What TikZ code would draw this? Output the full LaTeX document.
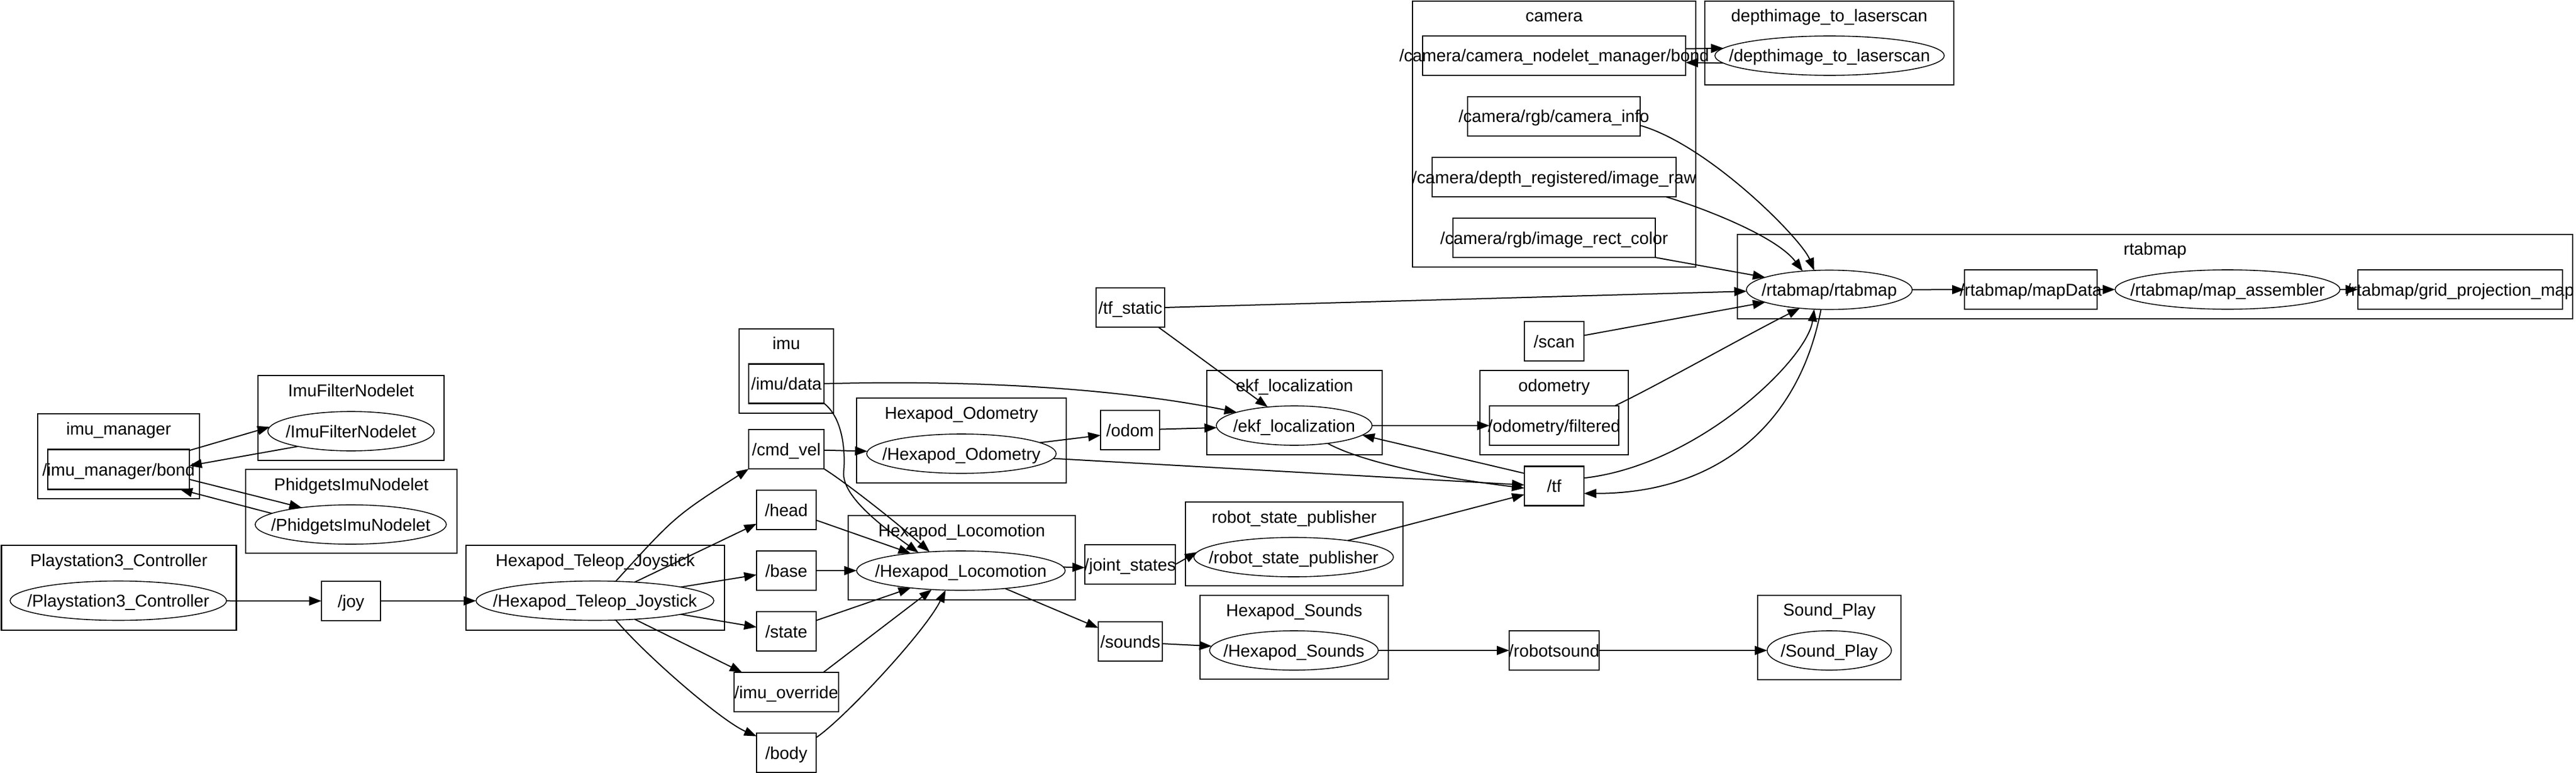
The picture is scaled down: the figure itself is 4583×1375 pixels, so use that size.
\documentclass[tikz,border=0pt]{standalone}
\usepackage{fontspec}
\setmainfont{Liberation Sans}
\usetikzlibrary{arrows.meta,shapes.geometric}
\newcommand{\zl}[1]{\makebox[0pt][c]{#1}}
\begin{document}
\begin{tikzpicture}[x=1pt,y=-1pt,
  every node/.style={font=\fontsize{30.5}{36}\selectfont, inner sep=0pt, outer sep=0pt, text height=22pt, text depth=0pt},
  clusterbox/.style={draw, line width=2.5pt, rectangle},
  topicbox/.style={draw, line width=2.2pt, rectangle, minimum height=70pt},
  nodeell/.style={draw, line width=1.6pt, ellipse, minimum height=70pt},
  ctitle/.style={},
  edge/.style={line width=2pt, -{Triangle[length=22pt,width=16pt]}},
]
\useasboundingbox (0,0) rectangle (4583,1375);
% clusters
\node[clusterbox, minimum width=288pt, minimum height=151pt] (c_imumgr) at (211,811.5) {};
\node[clusterbox, minimum width=331pt, minimum height=151pt] (c_imuf) at (624.5,743.5) {};
\node[clusterbox, minimum width=376pt, minimum height=149pt] (c_phid) at (625,909.5) {};
\node[clusterbox, minimum width=418pt, minimum height=151pt] (c_ps3) at (211.5,1045.5) {};
\node[clusterbox, minimum width=460pt, minimum height=151pt] (c_teleop) at (1059,1045.5) {};
\node[clusterbox, minimum width=168pt, minimum height=150pt] (c_imu) at (1399,660) {};
\node[clusterbox, minimum width=373pt, minimum height=151pt] (c_hodom) at (1710.5,783.5) {};
\node[clusterbox, minimum width=404pt, minimum height=150pt] (c_loco) at (1711,992) {};
\node[clusterbox, minimum width=312pt, minimum height=150pt] (c_ekf) at (2303,734) {};
\node[clusterbox, minimum width=387pt, minimum height=149pt] (c_rsp) at (2302.5,967.5) {};
\node[clusterbox, minimum width=335pt, minimum height=149pt] (c_hsnd) at (2302.5,1133.5) {};
\node[clusterbox, minimum width=264pt, minimum height=150pt] (c_odometry) at (2765,734) {};
\node[clusterbox, minimum width=504pt, minimum height=473pt] (c_camera) at (2765,238.5) {};
\node[clusterbox, minimum width=443pt, minimum height=149pt] (c_dimg) at (3254.5,76.5) {};
\node[clusterbox, minimum width=1486pt, minimum height=150pt] (c_rtab) at (3834,492) {};
\node[clusterbox, minimum width=255pt, minimum height=150pt] (c_splay) at (3254.5,1134) {};
% cluster titles
\node[ctitle] (t_imumgr) at ([yshift=-26pt]c_imumgr.north) {\zl{imu\_manager}};
\node[ctitle] (t_imuf) at ([yshift=-26pt]c_imuf.north) {\zl{ImuFilterNodelet}};
\node[ctitle] (t_phid) at ([yshift=-26pt]c_phid.north) {\zl{PhidgetsImuNodelet}};
\node[ctitle] (t_ps3) at ([yshift=-26pt]c_ps3.north) {\zl{Playstation3\_Controller}};
\node[ctitle] (t_teleop) at ([yshift=-26pt]c_teleop.north) {\zl{Hexapod\_Teleop\_Joystick}};
\node[ctitle] (t_imu) at ([yshift=-25pt]c_imu.north) {\zl{imu}};
\node[ctitle] (t_hodom) at ([yshift=-26pt]c_hodom.north) {\zl{Hexapod\_Odometry}};
\node[ctitle] (t_loco) at ([yshift=-26pt]c_loco.north) {\zl{Hexapod\_Locomotion}};
\node[ctitle] (t_ekf) at ([yshift=-26pt]c_ekf.north) {\zl{ekf\_localization}};
\node[ctitle] (t_rsp) at ([yshift=-26pt]c_rsp.north) {\zl{robot\_state\_publisher}};
\node[ctitle] (t_hsnd) at ([yshift=-26pt]c_hsnd.north) {\zl{Hexapod\_Sounds}};
\node[ctitle] (t_odometry) at ([yshift=-26pt]c_odometry.north) {\zl{odometry}};
\node[ctitle] (t_camera) at ([yshift=-26pt]c_camera.north) {\zl{camera}};
\node[ctitle] (t_dimg) at ([yshift=-26pt]c_dimg.north) {\zl{depthimage\_to\_laserscan}};
\node[ctitle] (t_rtab) at ([yshift=-25pt]c_rtab.north) {\zl{rtabmap}};
\node[ctitle] (t_splay) at ([yshift=-25pt]c_splay.north) {\zl{Sound\_Play}};
% topics
\node[topicbox, minimum width=252pt, minimum height=71pt] (bond) at (211,835) {\zl{/imu\_manager/bond}};
\node[topicbox, minimum width=105pt] (joy) at (624.5,1069) {\zl{/joy}};
\node[topicbox, minimum width=134pt] (imudata) at (1399,682.5) {\zl{/imu/data}};
\node[topicbox, minimum width=134pt] (cmdvel) at (1399,799) {\zl{/cmd\_vel}};
\node[topicbox, minimum width=106pt] (head) at (1399,907) {\zl{/head}};
\node[topicbox, minimum width=106pt] (base) at (1399,1015) {\zl{/base}};
\node[topicbox, minimum width=106pt] (state) at (1399,1123) {\zl{/state}};
\node[topicbox, minimum width=186pt] (imuov) at (1399,1231) {\zl{/imu\_override}};
\node[topicbox, minimum width=106pt] (body) at (1399,1339) {\zl{/body}};
\node[topicbox, minimum width=105pt] (odom) at (2010.5,765) {\zl{/odom}};
\node[topicbox, minimum width=122pt] (tfs) at (2011,547) {\zl{/tf\_static}};
\node[topicbox, minimum width=161pt] (js) at (2010.5,1004) {\zl{/joint\_states}};
\node[topicbox, minimum width=114pt] (sounds) at (2011,1141) {\zl{/sounds}};
\node[topicbox, minimum width=106pt] (scan) at (2765,607) {\zl{/scan}};
\node[topicbox, minimum width=230pt] (odomf) at (2765,757) {\zl{/odometry/filtered}};
\node[topicbox, minimum width=106pt] (tf) at (2765,864.5) {\zl{/tf}};
\node[topicbox, minimum width=160pt] (rsnd) at (2765,1157) {\zl{/robotsound}};
\node[topicbox, minimum width=468pt] (cbond) at (2765,99) {\zl{/camera/camera\_nodelet\_manager/bond}};
\node[topicbox, minimum width=307pt] (cinfo) at (2764.5,207) {\zl{/camera/rgb/camera\_info}};
\node[topicbox, minimum width=434pt] (iraw) at (2765,315) {\zl{/camera/depth\_registered/image\_raw}};
\node[topicbox, minimum width=360pt] (irc) at (2765,423) {\zl{/camera/rgb/image\_rect\_color}};
\node[topicbox, minimum width=236pt] (mapdata) at (3613,515) {\zl{/rtabmap/mapData}};
\node[topicbox, minimum width=364pt] (grid) at (4377,515) {\zl{/rtabmap/grid\_projection\_map}};
% ros nodes
\node[nodeell, minimum width=296pt] (imuf) at (624.5,767) {\zl{/ImuFilterNodelet}};
\node[nodeell, minimum width=340pt] (phid) at (624,933) {\zl{/PhidgetsImuNodelet}};
\node[nodeell, minimum width=385pt] (ps3) at (210.5,1068.5) {\zl{/Playstation3\_Controller}};
\node[nodeell, minimum width=423pt] (teleop) at (1058.5,1068.5) {\zl{/Hexapod\_Teleop\_Joystick}};
\node[nodeell, minimum width=337pt] (hodom) at (1710.5,807) {\zl{/Hexapod\_Odometry}};
\node[nodeell, minimum width=371pt] (loco) at (1709.5,1015) {\zl{/Hexapod\_Locomotion}};
\node[nodeell, minimum width=277pt] (ekf) at (2302.5,757) {\zl{/ekf\_localization}};
\node[nodeell, minimum width=355pt] (rsp) at (2301.5,991) {\zl{/robot\_state\_publisher}};
\node[nodeell, minimum width=300pt] (hsnd) at (2302,1157) {\zl{/Hexapod\_Sounds}};
\node[nodeell, minimum width=408pt] (dimg) at (3255,99) {\zl{/depthimage\_to\_laserscan}};
\node[nodeell, minimum width=295pt] (rtab) at (3254.5,515.5) {\zl{/rtabmap/rtabmap}};
\node[nodeell, minimum width=400pt] (massm) at (3963,515) {\zl{/rtabmap/map\_assembler}};
\node[nodeell, minimum width=221pt] (splay) at (3254.5,1157) {\zl{/Sound\_Play}};
\coordinate (imuvia) at (1501,840);
% edges
\draw[edge] (bond.15) -- (imuf.177);
\draw[edge] (imuf.196) -- (bond.3);
\draw[edge] (bond.-8) -- (phid.161);
\draw[edge] (phid.172) -- (bond.-18);
\draw[edge] (ps3) -- (joy);
\draw[edge] (joy) -- (teleop);
\draw[edge] (teleop.43) .. controls (1201,918) .. (cmdvel.south west);
\draw[edge] (teleop.25) -- (head.205);
\draw[edge] (teleop.9) -- (base.188);
\draw[edge] (teleop.-9) -- (state.172);
\draw[edge] (teleop.-25) -- (imuov.156);
\draw[edge] (teleop.-43) .. controls (1155,1172) and (1285,1283) .. (body.151);
\draw[edge] (cmdvel) -- (hodom);
\draw[edge] (cmdvel.south east) .. controls (1500,855) and (1590,925) .. (loco.149);
\draw[edge] (imudata.south east) .. controls (1495,740) and (1505,790) .. (imuvia) .. controls (1498,880) and (1560,930) .. (loco.157);
\draw[edge] (imudata.east) .. controls (1750,675) and (2000,693) .. (ekf.167);
\draw[edge] (head.-19) -- (loco.161);
\draw[edge] (base) -- (loco);
\draw[edge] (state.20) -- (loco.199);
\draw[edge] (imuov.28) -- (loco.213);
\draw[edge] (body.27) .. controls (1500,1280) and (1645,1125) .. (loco.232);
\draw[edge] (hodom.8) -- (odom.190);
\draw[edge] (hodom.-3) -- (tf.178);
\draw[edge] (odom) -- (ekf);
\draw[edge] (tfs.-35) -- (ekf.145);
\draw[edge] (tfs.east) -- (rtab.181);
\draw[edge] (ekf) -- (odomf);
\draw[edge] (tf.157) -- (ekf.-8);
\draw[edge] (ekf.-28) .. controls (2410,815) and (2520,845) .. (tf.184);
\draw[edge] (rsp.17) -- (tf.196);
\draw[edge] (loco.2) -- (js.184);
\draw[edge] (js.east) -- (rsp.177);
\draw[edge] (loco.-22) -- (sounds.157);
\draw[edge] (sounds.-4) -- (hsnd.177);
\draw[edge] (hsnd) -- (rsnd);
\draw[edge] (rsnd) -- (splay);
\draw[edge] (odomf.18) .. controls (2950,685) and (3100,600) .. (rtab.212);
\draw[edge] (tf.15) .. controls (3020,828) and (3215,640) .. (rtab.232);
\draw[edge] (rtab.247) .. controls (3200,760) and (3050,878) .. (tf.-14);
\draw[edge] (scan.11) -- (rtab.191);
\draw[edge] (cinfo.-6) .. controls (3040,258) and (3205,425) .. (rtab.128);
\draw[edge] (iraw.-10) .. controls (3030,370) and (3160,420) .. (rtab.145);
\draw[edge] (irc.-11) -- (rtab.169);
\draw[edge] (rtab) -- (mapdata);
\draw[edge] (mapdata) -- (massm);
\draw[edge] (massm) -- (grid);
\draw[edge] (cbond.3) -- (dimg.176);
\draw[edge] (dimg.184) -- (cbond.-3);
\end{tikzpicture}
\end{document}
